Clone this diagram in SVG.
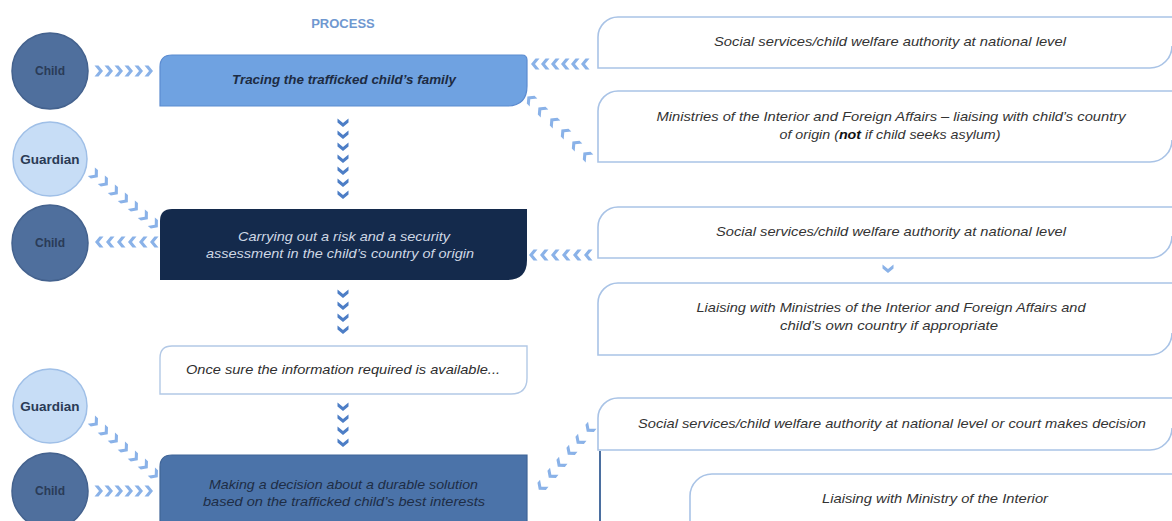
<svg xmlns="http://www.w3.org/2000/svg" xmlns:xlink="http://www.w3.org/1999/xlink" width="1172" height="521" viewBox="0 0 1172 521">
<style>
  .t { font-family: "Liberation Sans", Arial, sans-serif; font-style: italic; font-size: 13.5px; text-anchor: middle; }
  .rt { fill: #333333; }
  .rbox { fill: #ffffff; stroke: #a9c3e6; stroke-width: 1.6; }
  .lbl { font-family: "Liberation Sans", Arial, sans-serif; font-weight: bold; text-anchor: middle; }
  .child { fill: #4f6f9d; stroke: #44628e; stroke-width: 1.5; }
  .guard { fill: #c7ddf6; stroke: #9fbfe7; stroke-width: 1.5; }
  .cl { fill: #8ab2e8; }
  .cd { fill: #4d7ec6; }
</style>
<defs>
  <path id="chev" d="M-3.5,-5.5 L0.5,-5.5 L5,0 L0.5,5.5 L-3.5,5.5 L1,0 Z"/>
</defs>
<rect width="1172" height="521" fill="#ffffff"/>

<text x="343" y="28" class="lbl" font-size="13" fill="#6f98d0">PROCESS</text>

<g id="child1"><circle cx="50" cy="71" r="38" class="child"/><text x="50" y="75" class="lbl" font-size="12" fill="#2a3b57">Child</text></g>
<g id="guardian1"><circle cx="50" cy="159" r="37" class="guard"/><text x="50" y="164" class="lbl" font-size="13.5" fill="#2a3a55">Guardian</text></g>
<g id="child2"><circle cx="50" cy="243" r="38" class="child"/><text x="50" y="247" class="lbl" font-size="12" fill="#2a3b57">Child</text></g>
<g id="guardian2"><circle cx="50" cy="406" r="37" class="guard"/><text x="50" y="411" class="lbl" font-size="13.5" fill="#2a3a55">Guardian</text></g>
<g id="child3"><circle cx="50" cy="491" r="38" class="child"/><text x="50" y="495" class="lbl" font-size="12" fill="#2a3b57">Child</text></g>

<g id="p1">
  <path d="M160,106 L160,67 Q160,55 172,55 L522,55 Q527,55 527,60 L527,86 Q527,106 507,106 Z" fill="#6fa2e1" stroke="#5b8bd0" stroke-width="1.2"/>
  <text x="344" y="84" class="t" font-weight="bold" font-size="12" fill="#1d2b42" textLength="224" lengthAdjust="spacingAndGlyphs">Tracing the trafficked child’s family</text>
</g>
<g id="p2">
  <path d="M160,280 L160,221 Q160,209 172,209 L527,209 L527,260 Q527,280 507,280 Z" fill="#142a4c"/>
  <text x="344" y="241" class="t" fill="#cfd8e5" textLength="212" lengthAdjust="spacingAndGlyphs">Carrying out a risk and a security</text>
  <text x="340" y="258" class="t" fill="#cfd8e5" textLength="268" lengthAdjust="spacingAndGlyphs">assessment in the child’s country of origin</text>
</g>
<g id="p3">
  <path d="M160,394 L160,358 Q160,346 172,346 L527,346 L527,378 Q527,394 511,394 Z" fill="#ffffff" stroke="#b3c9e6" stroke-width="1.4"/>
  <text x="343" y="374" class="t" fill="#2e2e2e" textLength="314" lengthAdjust="spacingAndGlyphs">Once sure the information required is available...</text>
</g>
<g id="p4">
  <path d="M160,530 L160,467 Q160,455 172,455 L527,455 L527,530 Z" fill="#4b73a9" stroke="#3f6497" stroke-width="1.2"/>
  <text x="343.5" y="489" class="t" fill="#1e2d45" textLength="269" lengthAdjust="spacingAndGlyphs">Making a decision about a durable solution</text>
  <text x="344" y="506" class="t" fill="#1e2d45" textLength="282" lengthAdjust="spacingAndGlyphs">based on the trafficked child’s best interests</text>
</g>

<g id="r1">
  <path d="M1180,17 L618,17 A20,20 0 0 0 598,37 L598,68 L1150,68 A22,22 0 0 0 1172,46" class="rbox"/>
  <text x="890" y="46" class="t rt" textLength="352" lengthAdjust="spacingAndGlyphs">Social services/child welfare authority at national level</text>
</g>
<g id="r2">
  <path d="M1180,91 L618,91 A20,20 0 0 0 598,111 L598,162 L1150,162 A22,22 0 0 0 1172,140" class="rbox"/>
  <text x="891" y="121" class="t rt" textLength="469" lengthAdjust="spacingAndGlyphs">Ministries of the Interior and Foreign Affairs – liaising with child’s country</text>
  <text x="890" y="139" class="t rt" textLength="221" lengthAdjust="spacingAndGlyphs">of origin (<tspan font-weight="bold" fill="#111">not</tspan> if child seeks asylum)</text>
</g>
<g id="r3">
  <path d="M1180,207 L618,207 A20,20 0 0 0 598,227 L598,258 L1150,258 A22,22 0 0 0 1172,236" class="rbox"/>
  <text x="891" y="236" class="t rt" textLength="350" lengthAdjust="spacingAndGlyphs">Social services/child welfare authority at national level</text>
</g>
<g id="r4">
  <path d="M1180,283 L618,283 A20,20 0 0 0 598,303 L598,355 L1150,355 A22,22 0 0 0 1172,333" class="rbox"/>
  <text x="891" y="312" class="t rt" textLength="389" lengthAdjust="spacingAndGlyphs">Liaising with Ministries of the Interior and Foreign Affairs and</text>
  <text x="889" y="330" class="t rt" textLength="218" lengthAdjust="spacingAndGlyphs">child’s own country if appropriate</text>
</g>
<g id="r5">
  <path d="M1180,398 L618,398 A20,20 0 0 0 598,418 L598,450 L1150,450 A22,22 0 0 0 1172,428" class="rbox"/>
  <text x="892" y="428" class="t rt" textLength="508" lengthAdjust="spacingAndGlyphs">Social services/child welfare authority at national level or court makes decision</text>
  <line x1="600" y1="451" x2="600" y2="521" stroke="#4b6fa0" stroke-width="2"/>
</g>
<g id="r6">
  <path d="M1180,474 L712,474 A22,22 0 0 0 690,496 L690,530" class="rbox" fill="none"/>
  <text x="935" y="503" class="t rt" textLength="226" lengthAdjust="spacingAndGlyphs">Liaising with Ministry of the Interior</text>
</g>

<g id="connectors">
  <!-- Child1 -> P1 -->
  <g class="cl">
    <use xlink:href="#chev" transform="translate(98,71)"/>
    <use xlink:href="#chev" transform="translate(108,71)"/>
    <use xlink:href="#chev" transform="translate(118,71)"/>
    <use xlink:href="#chev" transform="translate(128,71)"/>
    <use xlink:href="#chev" transform="translate(138,71)"/>
    <use xlink:href="#chev" transform="translate(148,71)"/>
  </g>
  <!-- P1 -> P2 -->
  <g class="cd">
    <use xlink:href="#chev" transform="translate(343,122) rotate(90)"/>
    <use xlink:href="#chev" transform="translate(343,134) rotate(90)"/>
    <use xlink:href="#chev" transform="translate(343,146) rotate(90)"/>
    <use xlink:href="#chev" transform="translate(343,158) rotate(90)"/>
    <use xlink:href="#chev" transform="translate(343,170) rotate(90)"/>
    <use xlink:href="#chev" transform="translate(343,182) rotate(90)"/>
    <use xlink:href="#chev" transform="translate(343,194) rotate(90)"/>
  </g>
  <!-- P2 -> P3 -->
  <g class="cd">
    <use xlink:href="#chev" transform="translate(343,293) rotate(90)"/>
    <use xlink:href="#chev" transform="translate(343,305) rotate(90)"/>
    <use xlink:href="#chev" transform="translate(343,317) rotate(90)"/>
    <use xlink:href="#chev" transform="translate(343,329) rotate(90)"/>
  </g>
  <!-- P3 -> P4 -->
  <g class="cd">
    <use xlink:href="#chev" transform="translate(343,406) rotate(90)"/>
    <use xlink:href="#chev" transform="translate(343,418) rotate(90)"/>
    <use xlink:href="#chev" transform="translate(343,430) rotate(90)"/>
    <use xlink:href="#chev" transform="translate(343,442) rotate(90)"/>
  </g>
  <!-- Child3 -> P4 -->
  <g class="cl">
    <use xlink:href="#chev" transform="translate(98,491)"/>
    <use xlink:href="#chev" transform="translate(108,491)"/>
    <use xlink:href="#chev" transform="translate(118,491)"/>
    <use xlink:href="#chev" transform="translate(128,491)"/>
    <use xlink:href="#chev" transform="translate(138,491)"/>
    <use xlink:href="#chev" transform="translate(148,491)"/>
  </g>
  <!-- R1 -> P1 -->
  <g class="cl">
    <use xlink:href="#chev" transform="translate(536,64) rotate(180)"/>
    <use xlink:href="#chev" transform="translate(546,64) rotate(180)"/>
    <use xlink:href="#chev" transform="translate(556,64) rotate(180)"/>
    <use xlink:href="#chev" transform="translate(566,64) rotate(180)"/>
    <use xlink:href="#chev" transform="translate(576,64) rotate(180)"/>
    <use xlink:href="#chev" transform="translate(586,64) rotate(180)"/>
  </g>
  <!-- R2 -> P1 -->
  <g class="cl">
    <use xlink:href="#chev" transform="translate(531,100) rotate(224)"/>
    <use xlink:href="#chev" transform="translate(542,111) rotate(224)"/>
    <use xlink:href="#chev" transform="translate(554,122) rotate(224)"/>
    <use xlink:href="#chev" transform="translate(565,133) rotate(224)"/>
    <use xlink:href="#chev" transform="translate(576,145) rotate(224)"/>
    <use xlink:href="#chev" transform="translate(587,156) rotate(224)"/>
  </g>
  <!-- P2 -> Child2 -->
  <g class="cl">
    <use xlink:href="#chev" transform="translate(100,242) rotate(180)"/>
    <use xlink:href="#chev" transform="translate(111,242) rotate(180)"/>
    <use xlink:href="#chev" transform="translate(122,242) rotate(180)"/>
    <use xlink:href="#chev" transform="translate(133,242) rotate(180)"/>
    <use xlink:href="#chev" transform="translate(144,242) rotate(180)"/>
    <use xlink:href="#chev" transform="translate(155,242) rotate(180)"/>
  </g>
  <!-- Guardian1 -> P2 -->
  <g class="cl">
    <use xlink:href="#chev" transform="translate(94,174) rotate(40)"/>
    <use xlink:href="#chev" transform="translate(104,182) rotate(40)"/>
    <use xlink:href="#chev" transform="translate(114,191) rotate(40)"/>
    <use xlink:href="#chev" transform="translate(124,199) rotate(40)"/>
    <use xlink:href="#chev" transform="translate(134,207) rotate(40)"/>
    <use xlink:href="#chev" transform="translate(144,216) rotate(40)"/>
    <use xlink:href="#chev" transform="translate(154,224) rotate(40)"/>
  </g>
  <!-- R3 -> P2 -->
  <g class="cl">
    <use xlink:href="#chev" transform="translate(534,255) rotate(180)"/>
    <use xlink:href="#chev" transform="translate(545,255) rotate(180)"/>
    <use xlink:href="#chev" transform="translate(556,255) rotate(180)"/>
    <use xlink:href="#chev" transform="translate(567,255) rotate(180)"/>
    <use xlink:href="#chev" transform="translate(578,255) rotate(180)"/>
    <use xlink:href="#chev" transform="translate(589,255) rotate(180)"/>
  </g>
  <!-- R3 -> R4 -->
  <use xlink:href="#chev" class="cl" transform="translate(888,268) rotate(90)"/>
  <!-- Guardian2 -> P4 -->
  <g class="cl">
    <use xlink:href="#chev" transform="translate(94,422) rotate(41)"/>
    <use xlink:href="#chev" transform="translate(104,431) rotate(41)"/>
    <use xlink:href="#chev" transform="translate(114,439) rotate(41)"/>
    <use xlink:href="#chev" transform="translate(124,448) rotate(41)"/>
    <use xlink:href="#chev" transform="translate(134,457) rotate(41)"/>
    <use xlink:href="#chev" transform="translate(144,465) rotate(41)"/>
    <use xlink:href="#chev" transform="translate(154,474) rotate(41)"/>
  </g>
  <!-- R5 -> P4 -->
  <g class="cl">
    <use xlink:href="#chev" transform="translate(542,486) rotate(130)"/>
    <use xlink:href="#chev" transform="translate(552,474) rotate(130)"/>
    <use xlink:href="#chev" transform="translate(561,463) rotate(130)"/>
    <use xlink:href="#chev" transform="translate(571,451) rotate(130)"/>
    <use xlink:href="#chev" transform="translate(580,440) rotate(130)"/>
    <use xlink:href="#chev" transform="translate(590,428) rotate(130)"/>
  </g>
</g>
</svg>
